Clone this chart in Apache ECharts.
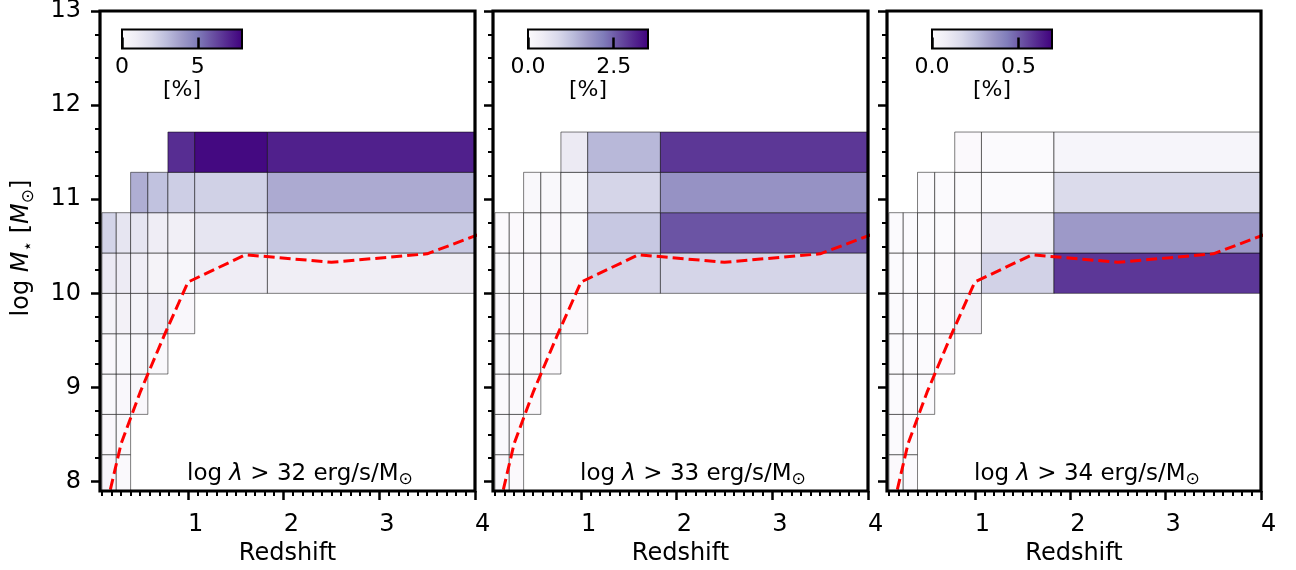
<!DOCTYPE html>
<html>
<head>
<meta charset="utf-8">
<script src="https://cdn.jsdelivr.net/npm/echarts@6/dist/echarts.min.js"></script>
<style>
  html, body { margin: 0; padding: 0; background: #fff; }
  #chart { width: 1296px; height: 570px; }
</style>
</head>
<body>
<div id="chart"></div>
<script>
// Bin edges: redshift (x) and log stellar mass (y)
const zEdges = [0.1, 0.25, 0.4, 0.58, 0.79, 1.07, 1.83, 4.0];
const mEdges = [7.857, 8.286, 8.714, 9.143, 9.571, 10.0, 10.429, 10.857, 11.286, 11.714];

// Fraction [%] per bin, rows from low to high mass, columns from low to high z (null = empty bin)
const frac32 = [
  [0.40, 0.15, null, null, null, null, null],
  [0.25, 0.20, null, null, null, null, null],
  [0.20, 0.25, 0.25, null, null, null, null],
  [0.25, 0.30, 0.30, 0.20, null, null, null],
  [0.60, 0.70, 0.60, 0.90, 0.25, null, null],
  [1.20, 1.10, 0.90, 0.57, 0.35, 1.00, 0.95],
  [2.20, 1.40, 1.40, 1.00, 0.85, 1.40, 2.60],
  [null, null, 3.40, 2.80, 2.40, 2.30, 3.50],
  [null, null, null, null, 6.80, 7.70, 7.10]
];
const frac33 = [
  [0.08, 0.05, null, null, null, null, null],
  [0.06, 0.05, null, null, null, null, null],
  [0.05, 0.06, 0.05, null, null, null, null],
  [0.06, 0.06, 0.07, 0.05, null, null, null],
  [0.08, 0.07, 0.08, 0.08, 0.05, null, null],
  [0.10, 0.07, 0.08, 0.09, 0.15, 0.95, 0.95],
  [0.05, 0.05, 0.06, 0.08, 0.09, 1.15, 2.60],
  [null, null, 0.10, 0.10, 0.16, 0.95, 1.87],
  [null, null, null, null, 0.51, 1.37, 2.90]
];
const frac34 = [
  [0.010, 0.005, null, null, null, null, null],
  [0.005, 0.005, null, null, null, null, null],
  [0.005, 0.005, 0.005, null, null, null, null],
  [0.005, 0.005, 0.005, 0.010, null, null, null],
  [0.005, 0.005, 0.005, 0.010, 0.055, null, null],
  [0.005, 0.005, 0.005, 0.010, 0.055, 0.197, 0.574],
  [0.005, 0.005, 0.005, 0.005, 0.010, 0.080, 0.350],
  [null, null, 0.005, 0.005, 0.005, 0.005, 0.170],
  [null, null, null, null, 0.010, 0.005, 0.037]
];
const panelFrac = [frac32, frac33, frac34];
const lambdaCut = ['32', '33', '34'];

// Colour scale limits and colourbar ticks per panel
const vmax = [7.92, 3.5, 0.694];
const cbTicks = [[0, 5], [0, 2.5], [0, 0.5]];
const cbTickText = [['0', '5'], ['0.0', '2.5'], ['0.0', '0.5']];

// Mass completeness limit (dashed curve)
const compZ = [0.15, 0.3, 0.5, 0.75, 1.0, 1.6, 2.5, 3.5, 4.5];
const compM = [7.75, 8.4, 8.95, 9.55, 10.12, 10.41, 10.33, 10.42, 10.8];

// Axis ticks
const zTicks = [1, 2, 3, 4];
const mTicks = [8, 9, 10, 11, 12, 13];

const purples = ['#fcfbfd', '#efedf5', '#dadaeb', '#bcbddc', '#9e9ac8', '#807dba', '#6a51a3', '#54278f', '#3f007d'];

const FONT = 'DejaVu Sans';
const panelLeft = [100, 493, 887];
const panelWidth = [375, 375, 374];
const cbLeft = [122, 528, 932];
const X_MIN = 0.08, X_MAX = 4, Y_MIN = 7.9, Y_MAX = 13;

const zMinor = [];
for (let k = 1; k < 40; k++) { if (k % 10) zMinor.push(+(k / 10).toFixed(1)); }
const mMinor = [];
for (let k = 0; k <= 20; k++) { if (k % 4) mMinor.push(8 + k * 0.25); }

const grid = [], xAxis = [], yAxis = [], series = [], visualMap = [], graphic = [];
const tickStyle = w => ({ color: '#000', width: w });
const sub = { fontSize: 17, fontFamily: FONT, color: '#000', verticalAlign: 'bottom', lineHeight: 17 };

function renderCell(params, api) {
  const p0 = api.coord([api.value(0), api.value(3)]);
  const p1 = api.coord([api.value(1), api.value(2)]);
  const rect = echarts.graphic.clipRectByRect(
    { x: p0[0], y: p0[1], width: p1[0] - p0[0], height: p1[1] - p0[1] },
    params.coordSys
  );
  if (!rect) return null;
  return {
    type: 'rect',
    shape: rect,
    style: { fill: api.visual('color'), stroke: 'rgba(0,0,0,0.5)', lineWidth: 1 }
  };
}

for (let p = 0; p < 3; p++) {
  // main panel
  grid.push({ left: panelLeft[p], top: 11, width: panelWidth[p], height: 480, outerBoundsMode: 'none',
    show: true, borderColor: '#000', borderWidth: 3.2, backgroundColor: 'transparent', z: 10 });
  const gi = grid.length - 1;

  const xi = xAxis.length;
  xAxis.push({
    type: 'value', gridIndex: gi, min: X_MIN, max: X_MAX, position: 'bottom',
    axisLine: { show: false }, splitLine: { show: false },
    axisTick: { show: true, length: 9, customValues: zTicks, lineStyle: tickStyle(2.5) },
    axisLabel: { show: true, customValues: zTicks, align: 'left', margin: 22,
      fontSize: 24, fontFamily: FONT, color: '#000', formatter: v => String(v) },
    name: 'Redshift', nameLocation: 'middle', nameGap: 51,
    nameTextStyle: { fontSize: 24, fontFamily: FONT, color: '#000' }
  });
  xAxis.push({
    type: 'value', gridIndex: gi, min: X_MIN, max: X_MAX, position: 'bottom',
    axisLine: { show: false }, splitLine: { show: false }, axisLabel: { show: false },
    axisTick: { show: true, length: 5, customValues: zMinor, lineStyle: tickStyle(2) }
  });

  const yi = yAxis.length;
  yAxis.push({
    type: 'value', gridIndex: gi, min: Y_MIN, max: Y_MAX, position: 'left',
    axisLine: { show: false }, splitLine: { show: false },
    axisTick: { show: true, length: 9, customValues: mTicks, lineStyle: tickStyle(2.5) },
    axisLabel: { show: p === 0, customValues: mTicks, margin: 19,
      fontSize: 24, fontFamily: FONT, color: '#000', formatter: v => String(v) }
  });
  yAxis.push({
    type: 'value', gridIndex: gi, min: Y_MIN, max: Y_MAX, position: 'left',
    axisLine: { show: false }, splitLine: { show: false }, axisLabel: { show: false },
    axisTick: { show: true, length: 5, customValues: mMinor, lineStyle: tickStyle(2) }
  });

  // bins
  const cells = [];
  panelFrac[p].forEach((row, r) => {
    row.forEach((v, c) => {
      if (v !== null) cells.push([zEdges[c], zEdges[c + 1], mEdges[r], mEdges[r + 1], v]);
    });
  });
  const si = series.length;
  series.push({
    type: 'custom', xAxisIndex: xi, yAxisIndex: yi, z: 2, clip: true,
    renderItem: renderCell,
    encode: { x: [0, 1], y: [2, 3] },
    data: cells
  });
  visualMap.push({
    type: 'continuous', show: false, seriesIndex: si, dimension: 4,
    min: 0, max: vmax[p], inRange: { color: purples }
  });

  // completeness curve
  series.push({
    type: 'line', xAxisIndex: xi, yAxisIndex: yi, z: 4, clip: true,
    symbol: 'none', silent: true,
    lineStyle: { color: '#ff0000', width: 3, type: [11, 5] },
    data: compZ.map((z, k) => [z, compM[k]])
  });

  // colourbar
  grid.push({ left: cbLeft[p], top: 29.5, width: 120, height: 19, outerBoundsMode: 'none' });
  const cgi = grid.length - 1;
  const cxi = xAxis.length;
  xAxis.push({
    type: 'value', gridIndex: cgi, min: 0, max: vmax[p], position: 'bottom', z: 5,
    axisLine: { show: false }, splitLine: { show: false },
    axisTick: { show: true, inside: true, length: 11, customValues: cbTicks[p], lineStyle: tickStyle(2.5) },
    axisLabel: { show: true, customValues: cbTicks[p], margin: 8, fontSize: 22, fontFamily: FONT, color: '#000',
      formatter: v => cbTickText[p][cbTicks[p].indexOf(v)] },
    name: '[%]', nameLocation: 'middle', nameGap: 29,
    nameTextStyle: { fontSize: 22, fontFamily: FONT, color: '#000' }
  });
  const cyi = yAxis.length;
  yAxis.push({ type: 'value', gridIndex: cgi, min: 0, max: 1, show: false });
  series.push({
    type: 'custom', xAxisIndex: cxi, yAxisIndex: cyi, z: 3,
    renderItem: (params, api) => {
      const a = api.coord([0, 0]);
      const b = api.coord([api.value(0), 1]);
      return {
        type: 'rect',
        shape: { x: a[0], y: b[1], width: b[0] - a[0], height: a[1] - b[1] },
        style: {
          fill: new echarts.graphic.LinearGradient(0, 0, 1, 0,
            purples.map((c, i) => ({ offset: i / (purples.length - 1), color: c }))),
          stroke: '#000', lineWidth: 2
        }
      };
    },
    data: [[vmax[p]]]
  });

  // selection label
  graphic.push({
    type: 'text', left: panelLeft[p] + 87, top: 463, z: 20,
    style: {
      text: '{a|log }{i|λ}{a| > ' + lambdaCut[p] + ' erg/s/M}{s|⊙}',
      rich: {
        a: { fontSize: 23, fontFamily: FONT, color: '#000', lineHeight: 28 },
        i: { fontSize: 23, fontFamily: FONT, fontStyle: 'italic', color: '#000', lineHeight: 28 },
        s: sub
      }
    }
  });
}

// y-axis title
graphic.push({
  type: 'text', x: 22, y: 248, rotation: Math.PI / 2, z: 20,
  style: {
    text: '{a|log }{i|M}{s|⋆}{a| [}{i|M}{s|⊙}{a|]}',
    align: 'center', verticalAlign: 'middle',
    rich: {
      a: { fontSize: 24, fontFamily: FONT, color: '#000', lineHeight: 30 },
      i: { fontSize: 24, fontFamily: FONT, fontStyle: 'italic', color: '#000', lineHeight: 30 },
      s: sub
    }
  }
});

const chart = echarts.init(document.getElementById('chart'));
chart.setOption({
  animation: false,
  backgroundColor: '#fff',
  grid, xAxis, yAxis, series, visualMap, graphic
});
</script>
</body>
</html>
